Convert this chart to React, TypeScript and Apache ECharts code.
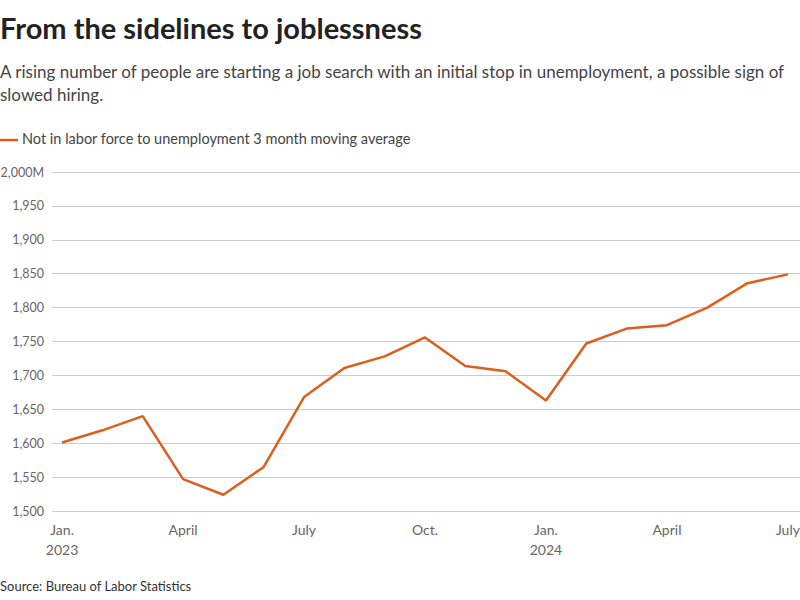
import React, { useEffect, useRef } from "react";
import * as echarts from "echarts";

const months = [
  "Jan 2023", "Feb 2023", "Mar 2023", "Apr 2023", "May 2023", "Jun 2023",
  "Jul 2023", "Aug 2023", "Sep 2023", "Oct 2023", "Nov 2023", "Dec 2023",
  "Jan 2024", "Feb 2024", "Mar 2024", "Apr 2024", "May 2024", "Jun 2024", "Jul 2024",
];
const values = [
  1601, 1619, 1640, 1547, 1524, 1565, 1668, 1711, 1728, 1756, 1714, 1706,
  1663, 1747, 1769, 1774, 1800, 1836, 1849,
];
const xTickPositions = [0, 3, 6, 9, 12, 15, 18];
const xTickLabels = ["Jan.\n2023", "April", "July", "Oct.", "Jan.\n2024", "April", "July"];

const FONT = "Lato, 'Noto Sans', sans-serif";

export default function App() {
  const ref = useRef<HTMLDivElement>(null);
  useEffect(() => {
    document.body.style.margin = "0";
    if (!ref.current) return;
    const chart = echarts.init(ref.current, null, { renderer: "svg" });
    chart.setOption({
      animation: false,
      backgroundColor: "#ffffff",
      textStyle: { fontFamily: FONT },
      graphic: [
        {
          type: "text",
          left: 0,
          top: 13,
          style: {
            text: "From the sidelines to joblessness",
            font: `bold 29px ${FONT}`,
            fill: "#222222",
          },
        },
        {
          type: "text",
          left: 0,
          top: 60,
          style: {
            text:
              "A rising number of people are starting a job search with an initial stop in unemployment, a possible sign of\nslowed hiring.",
            font: `17px ${FONT}`,
            lineHeight: 23,
            fill: "#444444",
          },
        },
        {
          type: "line",
          shape: { x1: 0, y1: 140, x2: 18, y2: 140 },
          style: { stroke: "#dc5f1e", lineWidth: 2.5 },
        },
        {
          type: "text",
          left: 22,
          top: 131,
          style: {
            text: "Not in labor force to unemployment 3 month moving average",
            font: `14.5px ${FONT}`,
            fill: "#444444",
          },
        },
        {
          type: "text",
          left: 0,
          top: 579,
          style: {
            text: "Source: Bureau of Labor Statistics",
            font: `13px ${FONT}`,
            fill: "#333333",
          },
        },
      ],
      grid: {
        left: 52,
        right: 0,
        top: 172,
        bottom: 89,
        containLabel: false,
        outerBoundsMode: "none",
      },
      xAxis: {
        type: "value",
        min: -0.25,
        max: 18.3,
        axisLine: { show: false },
        axisTick: { show: false },
        splitLine: { show: false },
        axisLabel: {
          customValues: xTickPositions,
          formatter: (v: number) => {
            const i = xTickPositions.indexOf(Math.round(v));
            return i >= 0 ? xTickLabels[i] : "";
          },
          color: "#666666",
          fontSize: 14,
          lineHeight: 20,
          margin: 8,
          fontFamily: FONT,
        },
      },
      yAxis: {
        type: "value",
        min: 1500,
        max: 2000,
        interval: 50,
        axisLine: { show: false },
        axisTick: { show: false },
        splitLine: { lineStyle: { color: "#cccccc", width: 1 } },
        axisLabel: {
          color: "#666666",
          fontSize: 12.5,
          margin: 8,
          fontFamily: FONT,
          formatter: (v: number) => {
            const s = v.toLocaleString("en-US");
            return v === 2000 ? s + "M" : s;
          },
        },
      },
      series: [
        {
          type: "line",
          name: "Not in labor force to unemployment 3 month moving average",
          data: values.map((v, i) => [i, v]),
          showSymbol: false,
          lineStyle: { color: "#dc5f1e", width: 2.5 },
          itemStyle: { color: "#dc5f1e" },
        },
      ],
    });
    return () => chart.dispose();
  }, []);
  return <div ref={ref} style={{ width: 800, height: 600 }} />;
}
